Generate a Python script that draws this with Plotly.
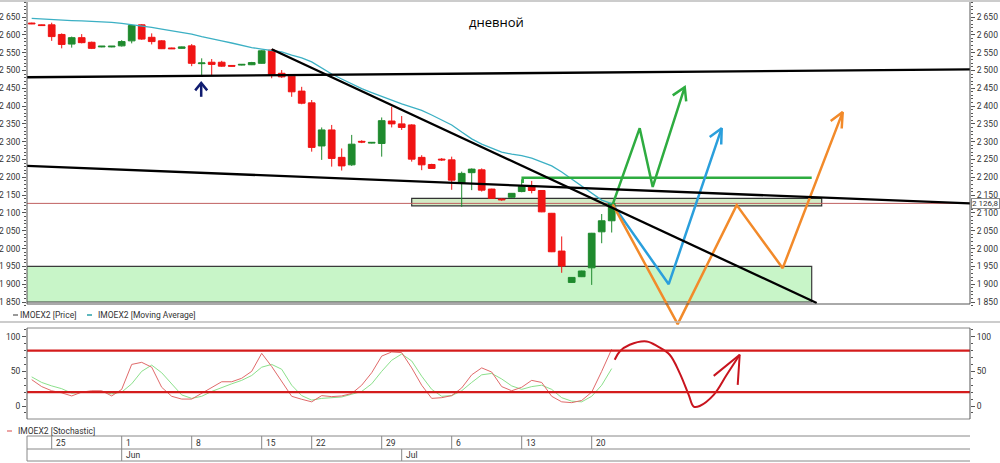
import plotly.graph_objects as go

W, H = 1000, 463

# ---------------- data ----------------
candle_idx = list(range(59))
opens = [2633, 2628, 2628, 2601, 2574, 2592, 2579, 2566, 2566, 2569,
         2583, 2628, 2593, 2583, 2563, 2562, 2569, 2519, 2523, 2523,
         2514, 2515, 2516, 2520, 2557, 2492, 2484, 2442, 2409, 2288,
         2333, 2256, 2235, 2301, 2296, 2295, 2358, 2350, 2347, 2256,
         2236, 2251, 2249, 2183, 2213, 2221, 2167, 2139, 2144, 2160,
         2174, 2163, 2099, 1993, 1905, 1921, 1946, 2047, 2078]
highs = [2634, 2629, 2634, 2604, 2595, 2602, 2581, 2568, 2568, 2585,
         2628, 2630, 2604, 2585, 2564, 2567, 2574, 2534, 2532, 2527,
         2515, 2518, 2524, 2557, 2560, 2501, 2486, 2454, 2417, 2340,
         2347, 2281, 2319, 2304, 2299, 2368, 2398, 2372, 2349, 2262,
         2238, 2254, 2258, 2216, 2225, 2225, 2168, 2141, 2156, 2194,
         2190, 2164, 2100, 2034, 1920, 1938, 2044, 2097, 2128]
lows = [2630, 2625, 2583, 2562, 2564, 2576, 2560, 2565, 2565, 2567,
        2576, 2586, 2573, 2560, 2560, 2561, 2512, 2487, 2487, 2510,
        2511, 2514, 2515, 2519, 2478, 2479, 2426, 2405, 2272, 2249,
        2230, 2219, 2232, 2296, 2295, 2258, 2340, 2333, 2244, 2220,
        2224, 2246, 2165, 2117, 2164, 2160, 2140, 2134, 2143, 2158,
        2155, 2102, 1990, 1932, 1904, 1920, 1898, 2015, 2045]
closes = [2631, 2626, 2595, 2573, 2592, 2578, 2562, 2568, 2568, 2581,
          2626, 2588, 2581, 2561, 2561, 2566, 2520, 2521, 2517, 2512,
          2512, 2517, 2522, 2555, 2489, 2482, 2440, 2408, 2284, 2333,
          2253, 2232, 2293, 2299, 2298, 2359, 2350, 2340, 2251, 2235,
          2225, 2249, 2192, 2211, 2223, 2164, 2141, 2137, 2155, 2174,
          2163, 2103, 1991, 1951, 1919, 1937, 2043, 2078, 2126.8]
moving_avg = [2646, 2644, 2642, 2641, 2640, 2639, 2638, 2637, 2635, 2632,
              2629, 2625, 2621, 2616, 2612, 2608, 2602, 2595, 2588, 2583,
              2577, 2570, 2564, 2560, 2557, 2552, 2543, 2535, 2524, 2507,
              2490, 2476, 2462, 2449, 2438, 2427, 2416, 2406, 2397, 2388,
              2375, 2361, 2347, 2327, 2308, 2293, 2282, 2271, 2265, 2261,
              2254, 2244, 2232, 2215, 2195, 2176, 2155, 2136, 2126]
stoch_k = [38, 28, 22, 19, 14.5, 20, 22, 22, 14.5, 24,
           60, 63, 56, 27, 14, 10, 10, 18, 27, 35,
           35, 40, 50, 76, 57, 36, 14, 9.7, 6, 15,
           13.5, 14.5, 18, 30, 48, 72, 78, 77, 55, 30,
           11, 12, 15, 26, 45, 55, 49, 28, 22, 27,
           37, 34, 14, 6, 4.8, 8, 20, 50, 82]
stoch_d = [42, 34, 29, 25, 18.5, 20, 21, 20.5, 17.5, 20,
           32, 50, 59, 48, 32, 16, 11, 14, 21, 27,
           32, 37, 44, 56, 60, 53, 30, 15, 8.5, 11,
           12, 13, 17, 21, 32, 50, 66, 75, 65, 43,
           24, 14, 15, 22, 34, 45, 47, 39, 29, 24,
           28, 30, 24, 12, 7, 6, 14, 30, 54]

week_tick_pos = [2, 9, 16, 23, 28, 35, 42, 49, 56]
week_tick_labels = ["25", "1", "8", "15", "22", "29", "6", "13", "20"]
month_pos = [9, 37]
month_labels = ["Jun", "Jul"]

price_ticks = list(range(1850, 2651, 50))
price_minor = list(range(1840, 2691, 10))
stoch_ticks = [0, 50, 100]
stoch_minor = list(range(-10, 111, 10))
last_price = 2126.8
overbought, oversold = 80, 20

# hand-drawn analysis marks (index, price)
line_a = [(-1, 2480.7), (94, 2503)]
line_b = [(-1, 2232.6), (94, 2126.5)]
line_c = [(24.0, 2559.3), (78.5, 1847.2)]
support_box = [(-1, 1850), (78.0, 1950)]
thin_box = [(38.0, 2120), (79.0, 2141)]
green_level_x = [49.1, 49.1, 78.0]
green_level_y = [2184, 2199, 2199]
green_path_x = [58.1, 60.8, 62.1, 65.3]
green_path_y = [2124, 2338, 2173, 2453]
green_head_x = [64.1, 65.3, 65.45]
green_head_y = [2430, 2453, 2413]
blue_path_x = [58.1, 63.7, 69.0]
blue_path_y = [2124, 1900, 2338]
blue_head_x = [67.8, 69.0, 68.95]
blue_head_y = [2313, 2338, 2292]
orange_path_x = [58.1, 64.6, 70.5, 75.1, 81.1]
orange_path_y = [2124, 1788, 2122, 1945, 2383]
orange_head_x = [79.9, 81.1, 81.0]
orange_head_y = [2358, 2383, 2337]
navy_arrow_x = [16.95, 16.95]
navy_arrow_y = [2426, 2465]
navy_head_x = [16.35, 16.95, 17.55]
navy_head_y = [2444, 2465, 2444]
stoch_draw_x = [58.3, 58.8, 59.8, 61.5, 62.6, 63.8, 64.8, 65.7, 66.2, 66.8, 68.2, 69.5, 70.8]
stoch_draw_y = [66.7, 78.7, 88.4, 93.2, 86, 74, 47.4, 16, -1, 0, 16, 45, 74]
stoch_head_x = [68.2, 70.8, 70.6]
stoch_head_y = [43.5, 74, 30.4]

# ---------------- layout geometry ----------------
def px(x):
    return x / W

def py(y):
    return 1 - y / H

X_L, X_R = 27, 970
idx0_px, px_per_idx = 31.7, 10.0
x_range = [(X_L - idx0_px) / px_per_idx, (X_R - idx0_px) / px_per_idx]
ppu = 285 / 800.0           # px per price unit, 2650 at y=17
P_TOP, P_BOT = 2, 327
price_range = [2650 - (P_BOT - 17) / ppu, 2650 + (17 - P_TOP) / ppu]
sppu = 0.693                 # stochastic px per unit, 0 at y=406
S_TOP, S_BOT = 328, 419
stoch_range = [-(S_BOT - 406) / sppu, (406 - S_TOP) / sppu]

FONT = "Roboto"
TXT = "#333333"
AX = "#555555"

fig = go.Figure()

fig.add_trace(go.Candlestick(
    x=candle_idx, open=opens, high=highs, low=lows, close=closes,
    increasing=dict(line=dict(color="#1f8a2e", width=1), fillcolor="#1f8a2e"),
    decreasing=dict(line=dict(color="#f01414", width=1), fillcolor="#f01414"),
    whiskerwidth=0, showlegend=False, xaxis="x", yaxis="y"))
fig.add_trace(go.Scatter(x=candle_idx, y=moving_avg, mode="lines",
                         line=dict(color="#3cb0c4", width=1.3),
                         showlegend=False, xaxis="x", yaxis="y"))
# anchors so the right-hand axes are drawn
fig.add_trace(go.Scatter(x=[None], y=[None], mode="lines", showlegend=False,
                         xaxis="x", yaxis="y2"))
fig.add_trace(go.Scatter(x=[None], y=[None], mode="lines", showlegend=False,
                         xaxis="x2", yaxis="y4"))

def poly(xs, ys, color, width, xa="x", ya="y", shape="linear"):
    fig.add_trace(go.Scatter(x=xs, y=ys, mode="lines",
                             line=dict(color=color, width=width, shape=shape),
                             showlegend=False, hoverinfo="skip",
                             xaxis=xa, yaxis=ya))

GREEN, BLUE, ORANGE = "#2eac40", "#2a9fdc", "#f28a2a"
poly(green_level_x, green_level_y, GREEN, 2.5)
poly(green_path_x, green_path_y, GREEN, 2.5)
poly(green_head_x, green_head_y, GREEN, 2.5)
poly(blue_path_x, blue_path_y, BLUE, 2.5)
poly(blue_head_x, blue_head_y, BLUE, 2.5)
poly(orange_path_x, orange_path_y, ORANGE, 2.5)
poly(orange_head_x, orange_head_y, ORANGE, 2.5)
poly(navy_arrow_x, navy_arrow_y, "#101c70", 2.5)
poly(navy_head_x, navy_head_y, "#101c70", 2.5)

# stochastic
fig.add_trace(go.Scatter(x=candle_idx, y=stoch_d, mode="lines",
                         line=dict(color="#8be08b", width=1),
                         showlegend=False, xaxis="x2", yaxis="y3"))
fig.add_trace(go.Scatter(x=candle_idx, y=stoch_k, mode="lines",
                         line=dict(color="#e06a6a", width=1),
                         showlegend=False, xaxis="x2", yaxis="y3"))
poly(stoch_draw_x, stoch_draw_y, "#c8141e", 2.0, "x2", "y3", "spline")
poly(stoch_head_x, stoch_head_y, "#c8141e", 2.0, "x2", "y3")

shapes = []
# zones
shapes.append(dict(type="rect", xref="x", yref="y",
                   x0=support_box[0][0], y0=support_box[0][1],
                   x1=support_box[1][0], y1=support_box[1][1],
                   fillcolor="#c8f5c8", line=dict(color="#3a3a3a", width=1.2), layer="below"))
shapes.append(dict(type="rect", xref="x", yref="y",
                   x0=thin_box[0][0], y0=thin_box[0][1],
                   x1=thin_box[1][0], y1=thin_box[1][1],
                   fillcolor="#d3ecc6", line=dict(color="#333333", width=1.2), layer="below"))
shapes.append(dict(type="line", xref="x", yref="y", x0=-1, x1=94,
                   y0=last_price, y1=last_price,
                   line=dict(color="#c06060", width=1), layer="below"))
for ln in (line_a, line_b, line_c):
    shapes.append(dict(type="line", xref="x", yref="y",
                       x0=ln[0][0], y0=ln[0][1], x1=ln[1][0], y1=ln[1][1],
                       line=dict(color="#000000", width=2.3)))
# stochastic levels
for lv in (overbought, oversold):
    shapes.append(dict(type="line", xref="x2", yref="y3", x0=-1, x1=94,
                       y0=lv, y1=lv, line=dict(color="#d41c1c", width=2.2)))

# frames
def pline(x0, y0, x1, y1, color=AX, width=1):
    shapes.append(dict(type="line", xref="paper", yref="paper",
                       x0=px(x0), y0=py(y0), x1=px(x1), y1=py(y1),
                       line=dict(color=color, width=width)))

pline(0, 1, W, 1, "#bbbbbb", 1.5)
pline(X_L, 2, X_L, 304)
pline(X_R, 2, X_R, 304)
pline(X_L, 304, X_R, 304)
pline(0, 322, W, 322, "#bbbbbb", 1.5)
pline(X_L, S_TOP, X_R, S_TOP, "#888888")
pline(X_L, S_BOT, X_R, S_BOT, "#888888")
pline(X_L, S_TOP, X_L, S_BOT)
pline(X_R, S_TOP, X_R, S_BOT)
# date table
for yy in (436, 449, 461):
    pline(X_L, yy, X_R, yy, "#888888")
pline(X_L, 436, X_L, 461, "#888888")
for p in week_tick_pos:
    shapes.append(dict(type="line", xref="x", yref="paper", x0=p, x1=p,
                       y0=py(436), y1=py(449), line=dict(color="#888888", width=1)))
for p in month_pos:
    shapes.append(dict(type="line", xref="x", yref="paper", x0=p, x1=p,
                       y0=py(449), y1=py(461), line=dict(color="#888888", width=1)))
# legend dashes
pline(13, 315, 18, 315, "#555555", 1.2)
pline(87, 315, 92, 315, "#2aa0a8", 1.5)
pline(7, 431, 12, 431, "#e06a6a", 1.2)

annotations = []
for p, t in zip(week_tick_pos, week_tick_labels):
    annotations.append(dict(x=p, xref="x", y=py(442.5), yref="paper", text=t,
                            showarrow=False, xanchor="left", xshift=2,
                            yanchor="middle", font=dict(family=FONT, size=8.5, color=TXT)))
for p, t in zip(month_pos, month_labels):
    annotations.append(dict(x=p, xref="x", y=py(455), yref="paper", text=t,
                            showarrow=False, xanchor="left", xshift=2,
                            yanchor="middle", font=dict(family=FONT, size=8.5, color=TXT)))
def ptext(x, y, t, size=8.5, color=TXT, anchor="left", family=FONT):
    annotations.append(dict(x=px(x), y=py(y), xref="paper", yref="paper", text=t,
                            showarrow=False, xanchor=anchor, yanchor="middle",
                            font=dict(family=family, size=size, color=color)))
ptext(18, 315, "IMOEX2 [Price]")
ptext(96, 315, "IMOEX2 [Moving Average]")
ptext(16, 431, "IMOEX2 [Stochastic]")
ptext(496, 22, "дневной", 13, "#000000", "center", "Open Sans")
annotations.append(dict(x=px(971), xref="paper", y=last_price, yref="y",
                        text="2 126,8", showarrow=False, xanchor="left", yanchor="middle",
                        bgcolor="#ffffff", bordercolor="#8a8a8a", borderwidth=1, borderpad=0,
                        font=dict(family=FONT, size=8, color=TXT)))

yax_common = dict(range=price_range, tickmode="array", tickvals=price_ticks,
                  tickformat=",d", ticks="outside", ticklen=4, tickcolor=AX,
                  showgrid=False, zeroline=False, showline=False,
                  tickfont=dict(family=FONT, size=8.5, color=TXT),
                  minor=dict(tickmode="array", tickvals=price_minor, ticks="outside",
                             ticklen=2, tickcolor=AX),
                  fixedrange=True)
sax_common = dict(range=stoch_range, tickmode="array", tickvals=stoch_ticks,
                  ticks="outside", ticklen=4, tickcolor=AX,
                  showgrid=False, zeroline=False, showline=False,
                  tickfont=dict(family=FONT, size=8.5, color=TXT),
                  minor=dict(tickmode="array", tickvals=stoch_minor, ticks="outside",
                             ticklen=2, tickcolor=AX))

fig.update_layout(
    width=W, height=H, margin=dict(l=0, r=0, t=0, b=0),
    paper_bgcolor="#ffffff", plot_bgcolor="#ffffff",
    separators=", ", showlegend=False,
    boxgap=0.18, boxgroupgap=0.18,
    xaxis=dict(domain=[px(X_L), px(X_R)], range=x_range, anchor="y",
               showticklabels=False, ticks="", showgrid=False, zeroline=False,
               showline=False, rangeslider=dict(visible=False)),
    yaxis=dict(domain=[py(P_BOT), py(P_TOP)], anchor="x", side="left", **yax_common),
    yaxis2=dict(overlaying="y", anchor="x", side="right", **yax_common),
    xaxis2=dict(domain=[px(X_L), px(X_R)], range=x_range, anchor="y3", matches="x",
                showticklabels=False, ticks="", showgrid=False, zeroline=False,
                showline=False),
    yaxis3=dict(domain=[py(S_BOT), py(S_TOP)], anchor="x2", side="left", **sax_common),
    yaxis4=dict(overlaying="y3", anchor="x2", side="right", **sax_common),
    shapes=shapes, annotations=annotations,
)

fig.write_html("out.html")
